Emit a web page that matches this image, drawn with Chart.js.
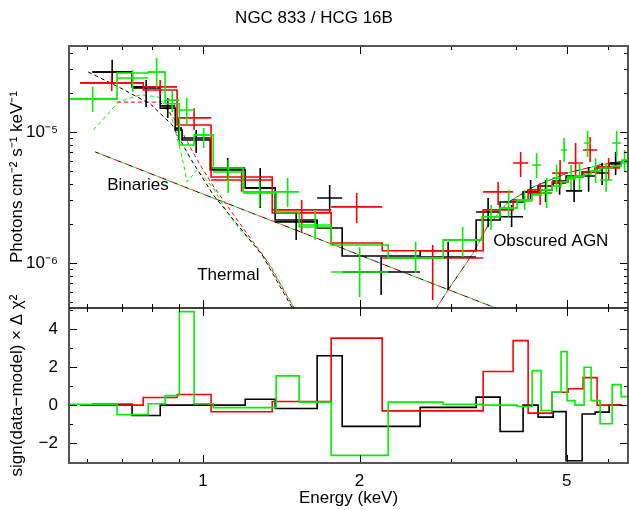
<!DOCTYPE html>
<html>
<head>
<meta charset="utf-8">
<script src="https://cdn.jsdelivr.net/npm/chart.js@4.4.1/dist/chart.umd.min.js"></script>
<style>
  html, body { margin: 0; padding: 0; background: #fff; }
</style>
</head>
<body>
<canvas id="canvas" width="629" height="510"></canvas>
<script>
// bin edges (keV), data with error range, folded model and residuals, per instrument
const blackEdges = [0.613, 0.731, 0.828, 0.885, 0.912, 1.033, 1.206, 1.377, 1.658, 1.852, 2.615, 3.350, 3.725, 4.124, 4.407, 4.710, 4.988, 5.355, 5.671, 6.035, 6.391];
const blackRate  = [2.87e-5, 2.17e-5, 1.58e-5, 1.07e-5, 9.00e-6, 5.31e-6, 3.74e-6, 2.06e-6, 3.13e-6, 8.53e-7, 1.11e-6, 2.45e-6, 2.25e-6, 3.49e-6, 3.61e-6, 4.08e-6, 3.55e-6, 4.61e-6, 4.86e-6, 5.80e-6];
const blackHi    = [3.55e-5, 2.49e-5, 1.82e-5, 1.28e-5, 1.035e-5, 6.33e-6, 5.31e-6, 2.41e-6, 3.94e-6, 1.11e-6, 1.45e-6, 3.13e-6, 2.77e-6, 4.30e-6, 4.30e-6, 4.86e-6, 4.45e-6, 5.41e-6, 5.80e-6, 7.04e-6];
const blackLo    = [2.37e-5, 1.55e-5, 1.28e-5, 8.69e-6, 6.92e-6, 4.30e-6, 2.63e-6, 1.50e-6, 2.45e-6, 5.70e-7, 6.22e-7, 1.88e-6, 1.88e-6, 3.03e-6, 2.92e-6, 3.31e-6, 2.92e-6, 3.49e-6, 3.94e-6, 4.70e-6];
const blackModel = [2.87e-5, 2.21e-5, 1.52e-5, 1.035e-5, 8.69e-6, 5.13e-6, 3.74e-6, 2.13e-6, 1.85e-6, 1.13e-6, 1.24e-6, 2.13e-6, 2.92e-6, 3.49e-6, 3.87e-6, 4.22e-6, 4.61e-6, 4.95e-6, 5.31e-6, 5.70e-6];
const blackResid = [0.05, -0.55, 0, 0, 0, 0, 0.31, -0.18, 2.6, -1.12, -0.12, 0.42, -1.39, 0, -0.63, -0.34, -2.93, -0.47, -0.37, 0];

const redEdges = [0.581, 0.768, 0.892, 1.037, 1.359, 1.764, 2.211, 3.456, 3.946, 4.217, 4.689, 5.032, 5.379, 5.722, 6.335];
const redRate  = [2.37e-5, 2.21e-5, 1.28e-5, 4.30e-6, 2.54e-6, 2.68e-6, 1.09e-6, 3.49e-6, 5.80e-6, 3.42e-6, 4.86e-6, 5.80e-6, 7.29e-6, 5.31e-6];
const redHi    = [2.67e-5, 2.49e-5, 1.52e-5, 5.13e-6, 3.03e-6, 3.42e-6, 1.37e-6, 4.15e-6, 7.04e-6, 4.08e-6, 6.11e-6, 8.24e-6, 9.16e-6, 6.33e-6];
const redLo    = [2.05e-5, 1.92e-5, 1.035e-5, 3.49e-6, 1.69e-6, 2.02e-6, 5.22e-7, 2.77e-6, 4.53e-6, 2.77e-6, 3.74e-6, 4.70e-6, 5.90e-6, 4.30e-6];
const redModel = [2.37e-5, 2.09e-5, 1.13e-5, 4.53e-6, 2.41e-6, 1.42e-6, 1.24e-6, 2.54e-6, 3.03e-6, 3.61e-6, 4.15e-6, 4.53e-6, 4.95e-6, 5.41e-6];
const redResid = [0, 0.4, 0.56, -0.35, 0.19, 3.53, -0.3, 1.77, 3.4, -0.42, 0.68, 0.86, 1.45, 0];

const greenEdges = [0.551, 0.684, 0.785, 0.846, 0.901, 0.962, 1.047, 1.195, 1.383, 1.531, 1.764, 2.270, 2.895, 3.440, 3.725, 4.016, 4.292, 4.466, 4.689, 4.879, 5.010, 5.190, 5.402, 5.572, 5.799, 6.115, 6.363, 6.563];
const greenRate  = [1.79e-5, 2.58e-5, 2.87e-5, 1.75e-5, 1.47e-5, 9.48e-6, 4.95e-6, 3.42e-6, 3.49e-6, 1.95e-6, 8.53e-7, 1.09e-6, 1.50e-6, 2.25e-6, 2.63e-6, 2.97e-6, 5.60e-6, 3.42e-6, 4.45e-6, 7.29e-6, 4.53e-6, 4.61e-6, 8.24e-6, 5.04e-6, 4.30e-6, 8.24e-6, 6.11e-6];
const greenHi    = [2.21e-5, 2.97e-5, 3.67e-5, 2.09e-5, 1.82e-5, 1.07e-5, 6.11e-6, 4.15e-6, 4.45e-6, 2.54e-6, 1.32e-6, 1.45e-6, 1.88e-6, 2.77e-6, 3.61e-6, 3.61e-6, 6.92e-6, 4.45e-6, 5.60e-6, 9.00e-6, 5.60e-6, 5.80e-6, 1.02e-5, 6.33e-6, 5.80e-6, 1.02e-5, 7.29e-6];
const greenLo    = [1.42e-5, 2.02e-5, 2.17e-5, 1.42e-5, 1.13e-5, 7.55e-6, 3.42e-6, 2.68e-6, 2.68e-6, 1.50e-6, 5.50e-7, 8.39e-7, 1.11e-6, 1.79e-6, 2.25e-6, 2.54e-6, 4.45e-6, 2.63e-6, 3.49e-6, 5.90e-6, 3.61e-6, 3.61e-6, 6.45e-6, 4.08e-6, 3.49e-6, 6.45e-6, 4.95e-6];
const greenModel = [1.79e-5, 2.82e-5, 2.87e-5, 1.64e-5, 7.96e-6, 9.48e-6, 5.31e-6, 3.49e-6, 2.45e-6, 1.88e-6, 1.37e-6, 1.09e-6, 1.50e-6, 2.25e-6, 2.63e-6, 3.03e-6, 3.31e-6, 3.61e-6, 3.87e-6, 4.15e-6, 4.38e-6, 4.61e-6, 4.78e-6, 5.04e-6, 5.31e-6, 5.50e-6, 5.80e-6];
const greenResid = [0.05, -0.5, 0.07, 0.5, 4.93, 0.07, -0.13, -0.13, 1.54, 0.16, -2.65, 0.16, 0.05, 0, 0, -0.07, 1.82, -0.28, 0.68, 2.82, 0.24, 0, 2.0, 0.24, -0.98, 1.08, 0.45];

// model components (dashed)
const blackThermE = [0.602, 0.694, 0.792, 0.873, 0.945, 1.047, 1.179, 1.300, 1.538];
const blackThermF = [2.87e-5, 2.17e-5, 1.64e-5, 1.13e-5, 6.33e-6, 3.31e-6, 1.85e-6, 1.15e-6, 3.55e-7];
const redThermE = [0.684, 0.828, 0.892, 0.945, 0.988, 1.047, 1.128, 1.233, 1.317, 1.511];
const redThermF = [1.69e-5, 1.69e-5, 1.19e-5, 7.68e-6, 5.60e-6, 3.87e-6, 2.54e-6, 1.55e-6, 1.09e-6, 4.23e-7];
const greenThermE = [0.616, 0.688, 0.758, 0.821, 0.865, 0.892, 0.917, 0.933, 0.975, 1.047, 1.113, 1.179, 1.271, 1.347, 1.511];
const greenThermF = [1.035e-5, 1.69e-5, 1.92e-5, 1.85e-5, 1.42e-5, 9.16e-6, 5.80e-6, 4.15e-6, 5.13e-6, 3.74e-6, 2.45e-6, 1.79e-6, 1.30e-6, 9.66e-7, 4.23e-7];
const binE = [0.621, 0.988, 1.538, 2.393, 3.612, 4.07];
const binF = [7.04e-6, 3.42e-6, 1.73e-6, 8.69e-7, 4.61e-7, 3.82e-7];
const agnE = [2.733, 2.818, 2.986, 3.306, 3.517, 3.842, 4.311, 5.010, 5.799, 6.563];
const agnF = [3.67e-7, 4.61e-7, 6.56e-7, 1.19e-6, 1.88e-6, 2.87e-6, 3.80e-6, 4.86e-6, 5.60e-6, 6.11e-6];

// ticks
const xMajor = [1, 2, 5];
const xMinor = [0.6, 0.7, 0.8, 0.9, 3, 4, 6];
const fluxMajor = [1e-6, 1e-5];
const fluxMinor = [5e-7, 6e-7, 7e-7, 8e-7, 9e-7, 2e-6, 3e-6, 4e-6, 5e-6, 6e-6, 7e-6, 8e-6, 9e-6, 2e-5, 3e-5, 4e-5];
const residMajor = [-2, 0, 2, 4];
const residMinor = [-3, -1, 1, 3, 5];

const FONT = '"Liberation Sans", Arial, Helvetica, sans-serif';
const BLACK = '#000000', RED = '#ff0000', GREEN = '#00f000';

function steps(edges, vals) {
  const pts = vals.map((v, i) => ({x: edges[i], y: v}));
  pts.push({x: edges[edges.length - 1], y: vals[vals.length - 1]});
  return pts;
}
function crosses(edges, rate, lo, hi) {
  const pts = [];
  rate.forEach((v, i) => {
    const c = Math.sqrt(edges[i] * edges[i + 1]);
    pts.push({x: edges[i], y: v}, {x: edges[i + 1], y: v}, {x: c, y: null},
             {x: c, y: lo[i]}, {x: c, y: hi[i]}, {x: c, y: null});
  });
  return pts;
}
function curve(es, fs) { return es.map((e, i) => ({x: e, y: fs[i]})); }

function line(data, color, axis, order, extra) {
  return Object.assign({
    data: data, borderColor: color, backgroundColor: color, yAxisID: axis,
    borderWidth: 1.6, pointRadius: 0, fill: false, tension: 0, spanGaps: false,
    order: order, clip: 0
  }, extra || {});
}

const datasets = [
  line(crosses(greenEdges, greenRate, greenLo, greenHi), GREEN, 'y', 1),
  line(steps(greenEdges, greenModel), GREEN, 'y', 1, {stepped: 'before'}),
  line(steps(greenEdges, greenResid), GREEN, 'y2', 1, {stepped: 'before'}),
  line(crosses(redEdges, redRate, redLo, redHi), RED, 'y', 2),
  line(steps(redEdges, redModel), RED, 'y', 2, {stepped: 'before'}),
  line(steps(redEdges, redResid), RED, 'y2', 2, {stepped: 'before'}),
  line(crosses(blackEdges, blackRate, blackLo, blackHi), BLACK, 'y', 3),
  line(steps(blackEdges, blackModel), BLACK, 'y', 3, {stepped: 'before'}),
  line(steps(blackEdges, blackResid), BLACK, 'y2', 3, {stepped: 'before'}),
  line(curve(blackThermE, blackThermF), BLACK, 'y', 4, {borderWidth: 1, borderDash: [4, 3]}),
  line(curve(redThermE, redThermF), RED, 'y', 4, {borderWidth: 1, borderDash: [4, 3]}),
  line(curve(greenThermE, greenThermF), GREEN, 'y', 4, {borderWidth: 1, borderDash: [4, 3]})
];
[BLACK, RED, GREEN].forEach((c, k) => {
  datasets.push(line(curve(binE, binF), c, 'y', 4, {borderWidth: 1, borderDash: [4, 8], borderDashOffset: k * 4}));
  datasets.push(line(curve(agnE, agnF), c, 'y', 4, {borderWidth: 1, borderDash: [4, 8], borderDashOffset: k * 4}));
});

const notes = [
  {text: 'Binaries', x: 0.655, y: 3.94e-6},
  {text: 'Thermal', x: 0.975, y: 8.1e-7},
  {text: 'Obscured AGN', x: 3.612, y: 1.47e-6}
];

const framePlugin = {
  id: 'frame',
  afterDraw(chart) {
    const {ctx, chartArea: a, scales} = chart;
    const sx = scales.x, st = scales.y, sb = scales.y2;
    const mid = st.bottom;
    ctx.save();
    ctx.strokeStyle = '#000';
    ctx.lineWidth = 1;
    ctx.beginPath();
    const xt = (vals, len) => vals.forEach(v => {
      const px = Math.round(sx.getPixelForValue(v)) + 0.5;
      ctx.moveTo(px, a.top); ctx.lineTo(px, a.top + len);
      ctx.moveTo(px, mid - len); ctx.lineTo(px, mid + len);
      ctx.moveTo(px, a.bottom); ctx.lineTo(px, a.bottom - len);
    });
    const yt = (scale, vals, len) => vals.forEach(v => {
      const py = Math.round(scale.getPixelForValue(v)) + 0.5;
      ctx.moveTo(a.left, py); ctx.lineTo(a.left + len, py);
      ctx.moveTo(a.right, py); ctx.lineTo(a.right - len, py);
    });
    xt(xMajor, 8); xt(xMinor, 4);
    yt(st, fluxMajor, 8); yt(st, fluxMinor, 4);
    yt(sb, residMajor, 8); yt(sb, residMinor, 4);
    ctx.stroke();
    ctx.strokeStyle = '#555';
    ctx.lineWidth = 2;
    ctx.strokeRect(a.left, a.top, a.right - a.left, a.bottom - a.top);
    ctx.strokeStyle = '#000';
    ctx.lineWidth = 1.5;
    ctx.beginPath(); ctx.moveTo(a.left, mid); ctx.lineTo(a.right, mid); ctx.stroke();
    ctx.fillStyle = '#000';
    ctx.font = '17px ' + FONT;
    ctx.textBaseline = 'middle';
    ctx.textAlign = 'left';
    notes.forEach(n => ctx.fillText(n.text, sx.getPixelForValue(n.x), st.getPixelForValue(n.y)));
    ctx.restore();
  }
};

const sup = {'-5': '10\u207B\u2075', '-6': '10\u207B\u2076'};

const config = {
  type: 'line',
  data: {datasets: datasets},
  options: {
    responsive: false,
    animation: false,
    events: [],
    layout: {padding: {top: 0, right: 1, left: 0, bottom: 0}},
    plugins: {
      legend: {display: false},
      tooltip: {enabled: false},
      title: {display: true, text: 'NGC 833 / HCG 16B', color: '#000',
              font: {size: 17, weight: 'normal', family: FONT}, padding: {top: 8, bottom: 17.6}}
    },
    scales: {
      x: {
        type: 'logarithmic', min: 0.553, max: 6.56,
        grid: {display: false, drawTicks: false}, border: {display: false},
        afterBuildTicks: s => { s.ticks = xMajor.map(v => ({value: v})); },
        afterFit: s => { s.height = 47; },
        ticks: {autoSkip: false, maxRotation: 0, padding: 8, color: '#000', font: {size: 17, family: FONT},
                callback: v => String(v)},
        title: {display: true, text: 'Energy (keV)', color: '#000', font: {size: 17, family: FONT},
                padding: {top: 0, bottom: 1}}
      },
      y: {
        type: 'logarithmic', position: 'left', stack: 'panels', stackWeight: 262, weight: 2,
        min: 4.53e-7, max: 4.53e-5,
        grid: {display: false, drawTicks: false}, border: {display: false},
        afterBuildTicks: s => { s.ticks = fluxMajor.map(v => ({value: v})); },
        afterFit: s => { s.width = 69; },
        ticks: {autoSkip: false, padding: 11, color: '#000', font: {size: 17, family: FONT},
                callback: v => sup[String(Math.round(Math.log10(v)))] || ''},
        title: {display: true, text: 'Photons cm\u207B\u00B2 s\u207B\u00B9 keV\u207B\u00B9', color: '#000',
                font: {size: 17, family: FONT}, padding: {top: 7, bottom: 0}}
      },
      y2: {
        type: 'linear', position: 'left', stack: 'panels', stackWeight: 155, weight: 1,
        min: -3.05, max: 5.12,
        grid: {display: false, drawTicks: false}, border: {display: false},
        afterBuildTicks: s => { s.ticks = residMajor.map(v => ({value: v})); },
        afterFit: s => { s.width = 69; },
        ticks: {autoSkip: false, padding: 11, color: '#000', font: {size: 17, family: FONT},
                callback: v => (v < 0 ? '\u2212' + Math.abs(v) : String(v))},
        title: {display: true, text: 'sign(data\u2212model) \u00D7 \u0394 \u03C7\u00B2', color: '#000',
                font: {size: 17, family: FONT}, padding: {top: 7, bottom: 0}}
      }
    }
  },
  plugins: [framePlugin]
};

const canvas = document.getElementById('canvas');
const chart = new Chart(canvas, config);
</script>
</body>
</html>
